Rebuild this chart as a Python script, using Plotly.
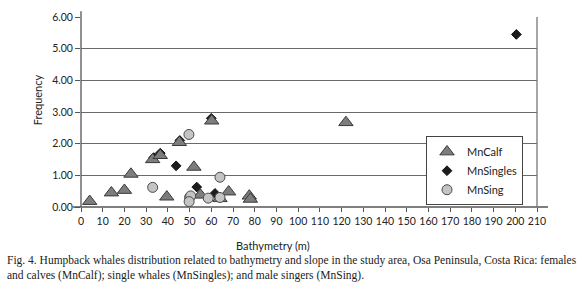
import plotly.graph_objects as go

# ---- data ----
calf_x = [4, 14, 20, 23, 33, 36.5, 39.5, 45.3, 52, 55, 60.2, 64, 68, 77.5, 78, 122]
calf_y = [0.18, 0.45, 0.53, 1.04, 1.5, 1.63, 0.32, 2.04, 1.26, 0.38, 2.72, 0.27, 0.48, 0.35, 0.25, 2.67]

singles_x = [33.5, 36.5, 43.8, 45.5, 53.3, 60, 61.7, 200.5]
singles_y = [1.56, 1.7, 1.3, 2.1, 0.63, 2.8, 0.43, 5.45]

sing_x = [33, 49.7, 50, 50.5, 49.8, 58.6, 64, 64]
sing_y = [0.62, 2.29, 0.3, 0.35, 0.17, 0.28, 0.94, 0.3]

x_ticks = list(range(0, 211, 10))
y_ticks = [0, 1, 2, 3, 4, 5, 6]

x_title = "Bathymetry (m)"
y_title = "Frequency"
caption1 = ("Fig. 4. Humpback whales distribution related to bathymetry and slope in the study area, "
            "Osa Peninsula, Costa Rica: females")
caption2 = "and calves (MnCalf); single whales (MnSingles); and male singers (MnSing)."

# ---- layout geometry ----
W, H = 580, 297
L, R, T, B = 81, 43, 11, 90
PW, PH = W - L - R, H - T - B


def px(xp):
    return (xp - L) / PW


def py(yp):
    return (H - B - yp) / PH


FONT = "Lato"
fig = go.Figure()

fig.add_trace(go.Scatter(
    x=singles_x, y=singles_y, mode="markers", name="MnSingles", legendrank=2,
    marker=dict(symbol="diamond", size=7.5, color="#1c1c1c", line=dict(color="#111", width=1)),
))
fig.add_trace(go.Scatter(
    x=calf_x, y=calf_y, mode="markers", name="MnCalf", legendrank=1,
    marker=dict(symbol="triangle-up", size=12.5, color="#7d7d7d", line=dict(color="#3a3a3a", width=1)),
))
fig.add_trace(go.Scatter(
    x=sing_x, y=sing_y, mode="markers", name="MnSing", legendrank=3,
    marker=dict(symbol="circle", size=10, color="#c4c4c4", line=dict(color="#4a4a4a", width=1)),
))

axis_col = "#555555"
grid_col = "#6a6a6a"

fig.update_layout(
    width=W, height=H,
    margin=dict(l=L, r=R, t=T, b=B),
    paper_bgcolor="white", plot_bgcolor="white",
    font=dict(family=FONT, size=11, color="#222"),
    showlegend=True,
    legend=dict(
        x=px(426), y=py(134), xanchor="left", yanchor="top",
        bgcolor="white", bordercolor="#444", borderwidth=1,
        font=dict(family=FONT, size=11, color="#222"),
        itemwidth=30, tracegroupgap=3,
    ),
    xaxis=dict(
        range=[0, 210], tickmode="array", tickvals=x_ticks,
        ticktext=[str(v) for v in x_ticks],
        showgrid=False, zeroline=False, showline=False,
        ticks="outside", ticklen=4, tickcolor=axis_col, tickwidth=1,
        tickfont=dict(family=FONT, size=10.5, color="#222"),
    ),
    yaxis=dict(
        range=[0, 6], tickmode="array", tickvals=y_ticks,
        ticktext=[f"{v:.2f}" for v in y_ticks],
        showgrid=True, gridcolor=grid_col, gridwidth=1.2, zeroline=False, showline=False,
        ticks="outside", ticklen=5, tickcolor=axis_col, tickwidth=1,
        tickfont=dict(family=FONT, size=10.5, color="#222"),
    ),
    shapes=[
        # bottom axis line (extends past the plot area)
        dict(type="line", xref="paper", yref="paper", x0=px(73), x1=px(548), y0=0, y1=0,
             line=dict(color=axis_col, width=1.3)),
        # left axis line
        dict(type="line", xref="paper", yref="paper", x0=0, x1=0, y0=0, y1=py(5),
             line=dict(color=axis_col, width=1.3)),
        # right frame line
        dict(type="line", xref="paper", yref="paper", x0=1, x1=1, y0=0, y1=1,
             line=dict(color="#777", width=1.3)),
    ],
    annotations=[
        dict(text=y_title, xref="paper", yref="paper", x=px(37), y=py(97), textangle=-90,
             showarrow=False, xanchor="center", yanchor="middle",
             font=dict(family=FONT, size=11, color="#222")),
        dict(text=x_title, xref="paper", yref="paper", x=px(273), y=py(247),
             showarrow=False, xanchor="center", yanchor="middle",
             font=dict(family=FONT, size=11, color="#222")),
        dict(text=caption1, xref="paper", yref="paper", x=px(5), y=py(262),
             showarrow=False, xanchor="left", yanchor="middle",
             font=dict(family="Liberation Serif", size=11.5, color="#222")),
        dict(text=caption2, xref="paper", yref="paper", x=px(5), y=py(278),
             showarrow=False, xanchor="left", yanchor="middle",
             font=dict(family="Liberation Serif", size=11.5, color="#222")),
    ],
)

fig.write_html(
    "out.html",
    config={"displayModeBar": False},
    post_script="document.body.style.margin='0';document.body.style.overflow='hidden';",
)
